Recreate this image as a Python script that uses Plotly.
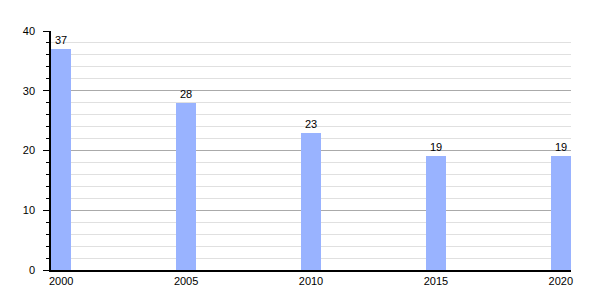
import plotly.graph_objects as go

years = [2000, 2005, 2010, 2015, 2020]
values = [37, 28, 23, 19, 19]
tick_labels = ["2000", "2005", "2010", "2015", "2020"]

fig = go.Figure(go.Bar(
    x=years, y=values, width=0.82,
    marker=dict(color="#99b3ff", line=dict(width=0)),
    text=[str(v) for v in values], textposition="outside",
    textfont=dict(family="Liberation Sans, Arial", size=11, color="black"),
    cliponaxis=False,
))

fig.update_layout(
    width=600, height=300,
    margin=dict(l=51, r=29, t=31, b=30),
    plot_bgcolor="white", paper_bgcolor="white",
    font=dict(family="Liberation Sans, Arial", size=11, color="black"),
    showlegend=False,
    bargap=0,
)
fig.update_xaxes(
    range=[2000 - 0.41, 2020 + 0.41],
    tickmode="array", tickvals=years, ticktext=tick_labels,
    showgrid=False, showline=True, linecolor="black", linewidth=1.5,
    ticks="", zeroline=False, tickfont=dict(size=11),
    ticklabelstandoff=0,
)
fig.update_yaxes(
    range=[0, 40], tickmode="linear", dtick=10, tick0=0,
    showgrid=True, gridcolor="#aaaaaa", gridwidth=1,
    showline=True, linecolor="black", linewidth=1.5,
    ticks="outside", ticklen=6, tickcolor="black",
    minor=dict(dtick=2, showgrid=True, gridcolor="#e0e0e0", gridwidth=1,
               ticks="outside", ticklen=3, tickcolor="black"),
    zeroline=False, tickfont=dict(size=11),
    ticklabelstandoff=6,
)

fig.write_html("out.html")
